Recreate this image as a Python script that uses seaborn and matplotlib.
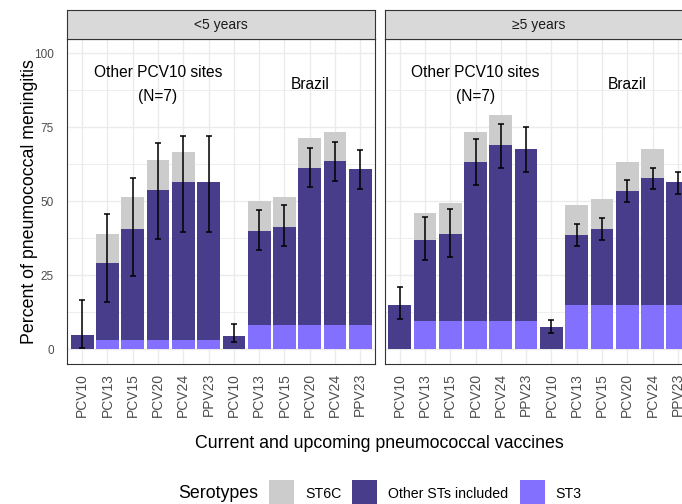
import matplotlib
matplotlib.use("Agg")
import matplotlib.pyplot as plt
from matplotlib.patches import Rectangle
import seaborn as sns
import numpy as np
import pandas as pd

sns.set_style("white")
plt.rcParams['font.family'] = ['Liberation Sans', 'DejaVu Sans']

# ---------------- data ----------------
vaccines = ["PCV10", "PCV13", "PCV15", "PCV20", "PCV24", "PPV23"]
groups = ["Other PCV10 sites", "Brazil"]
panels = ["<5 years", "\u22655 years"]

# <5 years
lt5_other_st3 = [0, 3.0, 3.0, 3.0, 3.0, 3.0]
lt5_other_oth = [4.8, 26.3, 37.5, 50.9, 53.6, 53.6]
lt5_other_6c = [0, 9.7, 10.9, 10.0, 10.0, 0]
lt5_other_lo = [0.5, 16.1, 24.8, 37.3, 39.6, 39.6]
lt5_other_hi = [16.6, 45.8, 58.0, 69.8, 72.2, 72.2]

lt5_bra_st3 = [0, 8.1, 8.1, 8.1, 8.1, 8.1]
lt5_bra_oth = [4.6, 31.9, 33.3, 53.1, 55.5, 52.7]
lt5_bra_6c = [0, 10.1, 10.1, 10.1, 9.9, 0]
lt5_bra_lo = [2.4, 33.4, 34.8, 54.7, 57.0, 54.2]
lt5_bra_hi = [8.6, 47.1, 48.6, 67.9, 70.1, 67.4]

# >=5 years
ge5_other_st3 = [0, 9.6, 9.6, 9.6, 9.6, 9.6]
ge5_other_oth = [14.8, 27.4, 29.5, 53.7, 59.4, 58.1]
ge5_other_6c = [0, 8.9, 10.3, 10.2, 10.3, 0]
ge5_other_lo = [10.1, 30.0, 31.3, 55.6, 61.2, 59.8]
ge5_other_hi = [21.0, 44.7, 47.4, 70.9, 76.2, 75.2]

ge5_bra_st3 = [0, 14.8, 14.8, 14.8, 14.8, 14.8]
ge5_bra_oth = [7.5, 23.7, 25.8, 38.6, 43.1, 41.7]
ge5_bra_6c = [0, 10.1, 10.1, 9.7, 9.8, 0]
ge5_bra_lo = [5.6, 34.9, 37.0, 49.7, 54.1, 52.6]
ge5_bra_hi = [9.9, 42.3, 44.4, 57.2, 61.4, 59.8]

legend_labels = ["ST6C", "Other STs included", "ST3"]
c_6c = "#CCCCCC"
c_oth = "#483D8B"
c_st3 = "#8470FF"


def make_df(st3a, otha, c6a, loa, hia, st3b, othb, c6b, lob, hib):
    rows = []
    for g, (st3, oth, c6, lo, hi) in zip(groups, [(st3a, otha, c6a, loa, hia),
                                                  (st3b, othb, c6b, lob, hib)]):
        for i, v in enumerate(vaccines):
            rows.append(dict(key=f"{g}|{v}", vaccine=v, group=g,
                             st3=st3[i], oth=oth[i], c6=c6[i], lo=lo[i], hi=hi[i]))
    df = pd.DataFrame(rows)
    df["top_dark"] = df["st3"] + df["oth"]
    df["top_all"] = df["top_dark"] + df["c6"]
    return df


dfs = [make_df(lt5_other_st3, lt5_other_oth, lt5_other_6c, lt5_other_lo, lt5_other_hi,
               lt5_bra_st3, lt5_bra_oth, lt5_bra_6c, lt5_bra_lo, lt5_bra_hi),
       make_df(ge5_other_st3, ge5_other_oth, ge5_other_6c, ge5_other_lo, ge5_other_hi,
               ge5_bra_st3, ge5_bra_oth, ge5_bra_6c, ge5_bra_lo, ge5_bra_hi)]

# ---------------- figure ----------------
W, H = 682, 504
fig = plt.figure(figsize=(W / 100, H / 100), dpi=100)

def fx(px):
    return px / W

def fy(py):
    return 1 - py / H

panel_top, panel_bot = 38.5, 364
strip_top = 10.5
pw = 308.5
lefts = [67.0, 384.5]

border = "#333333"
grid_c = "#EBEBEB"

for pi, (df, left) in enumerate(zip(dfs, lefts)):
    ax = fig.add_axes([fx(left), fy(panel_bot), fx(pw), (panel_bot - panel_top) / H])
    order = list(df["key"])
    sns.barplot(data=df, x="key", y="top_all", order=order, color=c_6c,
                width=0.9, saturation=1, errorbar=None, linewidth=0, ax=ax)
    sns.barplot(data=df, x="key", y="top_dark", order=order, color=c_oth,
                width=0.9, saturation=1, errorbar=None, linewidth=0, ax=ax)
    sns.barplot(data=df, x="key", y="st3", order=order, color=c_st3,
                width=0.9, saturation=1, errorbar=None, linewidth=0, ax=ax)
    xs = np.arange(len(df))
    mid = (df["lo"].values + df["hi"].values) / 2
    half = (df["hi"].values - df["lo"].values) / 2
    ax.errorbar(xs, mid, yerr=half, fmt="none", ecolor="black",
                elinewidth=1.1, capsize=2.0, capthick=1.1, zorder=5)

    ax.set_xlim(-0.6, 11.6)
    ax.set_ylim(-5, 105)
    ax.set_axisbelow(True)
    ax.set_xticks(xs)
    ax.set_xticklabels(vaccines * 2, rotation=90, fontsize=10, color="#4D4D4D")
    ax.set_yticks([0, 25, 50, 75, 100])
    ax.set_yticks([12.5, 37.5, 62.5, 87.5], minor=True)
    ax.grid(True, which="major", color=grid_c, linewidth=1.0)
    ax.grid(True, which="minor", axis="y", color=grid_c, linewidth=0.6)
    ax.tick_params(axis="x", length=0, pad=6.5)
    ax.tick_params(axis="y", which="major", length=2.5, width=0.7,
                   color="#CFCFCF", pad=7, labelsize=8.5, labelcolor="#4D4D4D")
    ax.tick_params(axis="y", which="minor", length=0)
    if pi == 1:
        ax.set_yticklabels([])
        ax.tick_params(axis="y", which="major", length=0)
    ax.set_xlabel("")
    ax.set_ylabel("")
    for s in ax.spines.values():
        s.set_color(border)
        s.set_linewidth(0.8)

    ax.text(3.0, 93.6, "Other PCV10 sites", ha="center", va="center", fontsize=11.2, color="black")
    ax.text(3.0, 85.3, "(N=7)", ha="center", va="center", fontsize=11.2, color="black")
    ax.text(9.0, 89.6, "Brazil", ha="center", va="center", fontsize=11.2, color="black")

    # strip
    sax = fig.add_axes([fx(left), fy(panel_top), fx(pw), (panel_top - strip_top) / H])
    sax.set_facecolor("#D9D9D9")
    sax.set_xticks([])
    sax.set_yticks([])
    for s in sax.spines.values():
        s.set_color(border)
        s.set_linewidth(0.8)
    sax.text(0.5, 0.5, panels[pi], ha="center", va="center", fontsize=10,
             color="#1A1A1A", transform=sax.transAxes)

# axis titles
fig.text(fx(30), fy(201.5), "Percent of pneumococcal meningitis", rotation=90,
         ha="center", va="center", fontsize=12.8, color="black")
fig.text(fx(379), fy(443), "Current and upcoming pneumococcal vaccines",
         ha="center", va="center", fontsize=12.8, color="black")

# legend (manual, bottom)
ly = 493.5
fig.text(fx(178), fy(ly), "Serotypes", ha="left", va="center", fontsize=12.8, color="black")
key_x = [269, 352, 520]
txt_x = [305, 388, 555]
for kx, tx, lab, col in zip(key_x, txt_x, legend_labels, [c_6c, c_oth, c_st3]):
    fig.patches.append(Rectangle((fx(kx), fy(505)), fx(25), 25 / H, facecolor=col,
                                 edgecolor="none", transform=fig.transFigure, figure=fig))
    fig.text(fx(tx), fy(ly), lab, ha="left", va="center", fontsize=10.2, color="black")

fig.savefig("out.png", dpi=100)
